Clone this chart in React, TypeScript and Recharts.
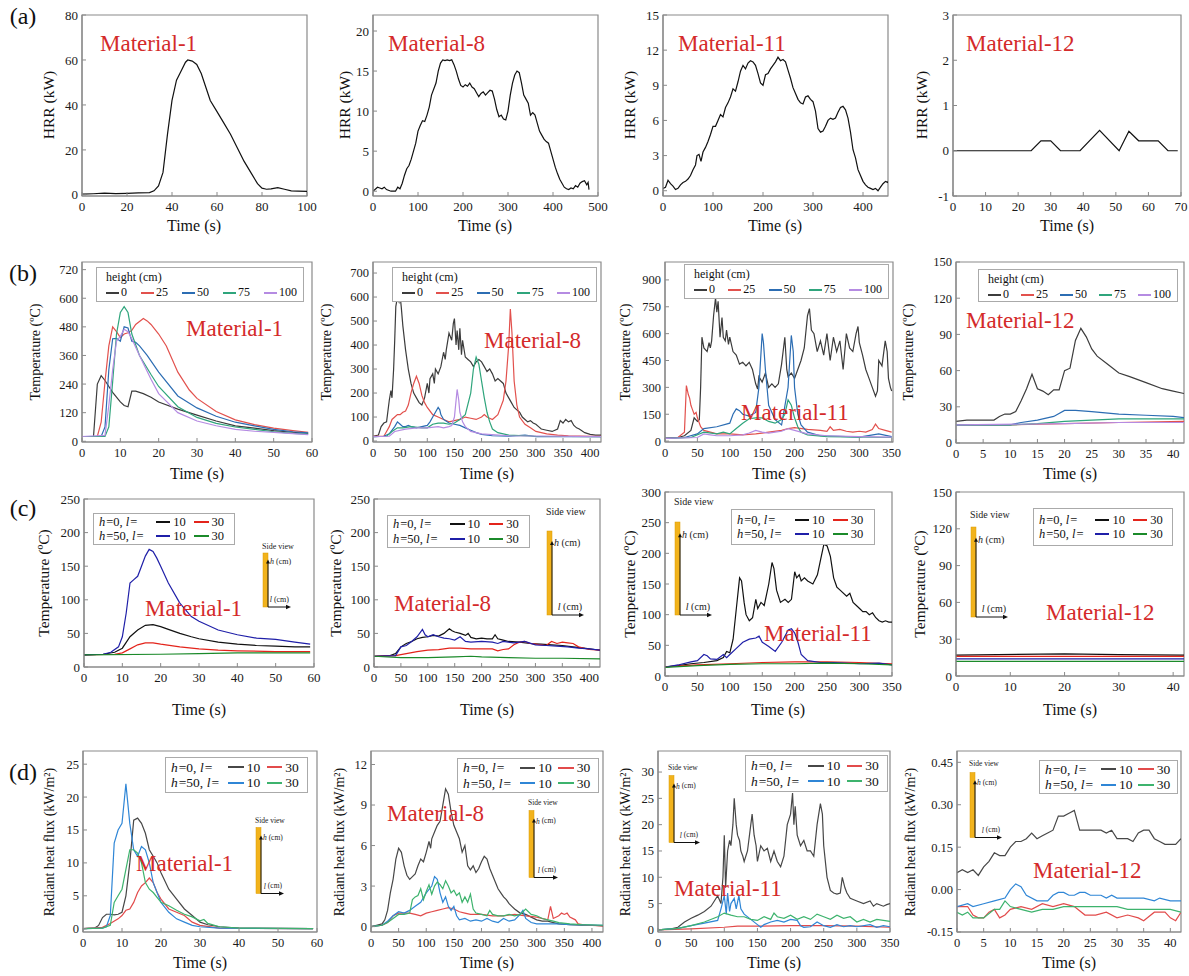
import React from "react";
import { LineChart, Line, XAxis, YAxis, ReferenceArea } from "recharts";

type Pt = [number, number];

const SERIF = '"Liberation Serif", "Times New Roman", "DejaVu Serif", serif';
const FRAME = "#8a8a8a";
const MAT_RED = "#d42a2a";

if (typeof document !== "undefined") document.body.style.margin = "0";

// ---------- (a) heat release rate ----------
const hrrM1: Pt[] = [[0,0.3],[5,0.5],[10,0.8],[15,0.6],[20,0.7],[25,0.9],[30,1],[32,1.8],[34,4],[36,10],[38,27],[40,42],[42,51],[44,55],[46,59],[47,60],[49,59.5],[51,58],[53,54],[55,48],[57,42],[60,37],[63,32],[66,27],[69,21],[72,15],[75,10],[78,5],[80,3],[82,2.5],[84,2.7],[87,3.2],[90,2.5],[93,1.8],[96,1.7],[100,1.6]];
const hrrM8: Pt[] = [[0,0],[10,0.5],[15,0.4],[20,0.3],[25,0.5],[30,0.2],[40,0],[50,0],[55,0.5],[60,0.3],[65,1],[70,2],[75,2.8],[80,3.2],[85,4],[90,5],[95,6],[100,7.5],[105,8.2],[110,8.8],[115,8.7],[120,9.5],[125,10.5],[130,12],[140,13.5],[145,15],[150,16],[155,16.4],[160,16.3],[165,16.4],[170,16.3],[175,16.4],[180,15.8],[185,15],[190,14],[195,13.2],[200,13],[205,13.3],[210,13.1],[215,13.5],[220,13],[225,12.8],[230,12.3],[235,11.8],[240,12.2],[245,12.4],[250,12],[255,12.3],[260,12.6],[265,12.5],[270,11.5],[275,10.2],[280,9.3],[285,9.5],[290,9],[295,8.9],[300,10],[305,12],[310,13.5],[315,14.5],[320,15],[325,14.8],[330,13.5],[335,12],[340,11.5],[345,11],[350,9.5],[355,9.8],[360,9.5],[365,8.5],[370,7.5],[375,7],[380,6.5],[385,6.2],[390,6],[395,5],[400,4],[405,3],[410,2.2],[415,1.5],[420,1],[425,0.5],[430,0.3],[435,0.2],[440,0.4],[445,0.3],[450,0.7],[455,0.5],[460,1],[465,1.2],[470,1.3],[475,0.8],[478,1.1],[480,0.2]];
const hrrM11: Pt[] = [[0,0.2],[5,0.3],[10,0.9],[15,0.6],[20,0.4],[25,0.1],[30,0.2],[35,0.5],[40,0.7],[45,0.8],[50,1],[55,1.3],[60,1.8],[65,2.2],[68,3],[72,3.1],[76,2.5],[80,3.3],[85,3.7],[90,4.2],[95,4.8],[100,5.5],[105,5.5],[110,6],[115,6.5],[120,6.3],[125,7.1],[130,7.5],[135,8],[140,8.7],[145,8.5],[150,9.3],[155,10.2],[160,10.7],[165,10.4],[170,10.9],[175,11.1],[180,11],[185,10.7],[190,10],[195,9.2],[200,9],[205,9.9],[210,10],[215,10.4],[220,10.7],[225,11],[230,11.4],[235,11.1],[240,11.2],[245,11],[250,10.3],[255,9.6],[260,8.8],[265,8.3],[270,7.8],[275,7.5],[280,7.4],[285,8],[290,8.1],[295,7.8],[300,7.6],[305,6.8],[310,5.3],[315,5],[320,5.1],[325,5.5],[330,6],[335,6.2],[340,6.1],[345,6.2],[350,6.7],[355,7.1],[360,7.2],[365,6.9],[370,6.2],[375,5],[380,3.5],[385,2.8],[390,1.8],[395,1.3],[400,0.8],[405,0.5],[410,0.3],[415,0.2],[420,0.1],[425,0.2],[430,0],[435,0.3],[440,0.6],[445,0.8],[450,0.7],[453,1.1]];
const hrrM12: Pt[] = [[0,0],[24,0],[27,0.22],[30,0.22],[33,0],[39,0],[45,0.45],[51,0],[54,0.43],[57,0.22],[63,0.22],[66,0],[69,0]];

// ---------- (b) temperature along height ----------
const tM1h0: Pt[] = [[0,20],[3,20],[4,240],[5,275],[6,255],[7,230],[8,205],[9,185],[10,165],[11,150],[12,145],[13,210],[14,210],[16,200],[18,185],[20,165],[25,135],[30,110],[35,85],[40,65],[45,55],[50,45],[55,38],[59,33]];
const tM1h25: Pt[] = [[0,20],[4,20],[5,80],[6,250],[7,400],[8,480],[9,460],[10,435],[11,450],[12,455],[13,465],[14,490],[16,515],[17,505],[18,490],[20,450],[22,400],[25,290],[28,215],[30,180],[35,125],[40,90],[45,70],[50,55],[55,45],[59,38]];
const tM1h50: Pt[] = [[0,20],[5,20],[6,60],[7,300],[8,430],[9,432],[10,420],[11,480],[12,475],[13,420],[14,415],[15,400],[17,360],[20,290],[25,190],[30,140],[35,105],[40,80],[45,65],[50,50],[55,40],[59,35]];
const tM1h75: Pt[] = [[0,20],[6,20],[7,60],[8,250],[9,450],[10,540],[11,565],[12,540],[13,450],[15,360],[18,280],[20,230],[25,145],[30,100],[35,75],[40,60],[45,50],[50,40],[55,33],[59,30]];
const tM1h100: Pt[] = [[0,20],[6,25],[7,150],[8,300],[9,420],[10,440],[11,470],[12,460],[13,430],[15,360],[18,260],[20,200],[25,120],[30,85],[35,65],[40,50],[45,42],[50,37],[55,32],[59,28]];

const tM8h0: Pt[] = [[0,20],[10,25],[15,60],[20,75],[25,80],[30,170],[33,210],[35,180],[38,300],[40,420],[42,560],[45,600],[48,580],[50,605],[52,560],[55,480],[60,380],[65,300],[70,240],[75,200],[80,180],[85,160],[90,150],[95,180],[100,240],[103,200],[105,260],[110,280],[113,240],[115,300],[120,280],[125,310],[130,370],[133,340],[135,380],[140,450],[145,420],[148,490],[150,510],[153,400],[155,460],[158,380],[160,470],[163,360],[165,420],[170,350],[175,340],[180,330],[185,310],[190,330],[195,340],[200,330],[205,310],[210,290],[215,300],[220,280],[225,250],[230,260],[235,250],[240,240],[245,200],[250,180],[255,160],[260,140],[265,130],[270,120],[275,100],[280,90],[285,80],[290,85],[295,75],[300,70],[305,60],[310,50],[320,45],[330,40],[340,50],[345,85],[350,75],[355,90],[360,80],[365,85],[370,65],[375,55],[380,50],[390,35],[400,28],[410,25],[420,25]];
const tM8h25: Pt[] = [[0,20],[20,20],[25,40],[30,60],[35,90],[40,100],[45,110],[50,110],[55,120],[60,125],[65,150],[70,200],[75,240],[80,270],[85,240],[90,190],[95,160],[100,140],[110,110],[120,100],[130,90],[140,80],[150,85],[160,90],[170,100],[180,95],[190,90],[200,100],[205,110],[210,100],[220,90],[230,110],[240,170],[245,250],[250,400],[253,550],[256,450],[260,250],[265,150],[270,100],[280,70],[290,55],[300,40],[320,30],[340,25],[360,22],[400,20],[420,20]];
const tM8h50: Pt[] = [[0,18],[20,20],[30,30],[40,60],[45,80],[50,70],[55,60],[60,60],[65,65],[70,60],[80,55],[90,60],[100,65],[105,80],[110,100],[115,120],[120,140],[123,130],[125,110],[130,90],[140,75],[150,70],[160,65],[170,55],[180,45],[190,35],[200,28],[220,22],[250,20],[280,25],[290,22],[300,18],[420,18]];
const tM8h75: Pt[] = [[0,18],[25,20],[35,40],[45,55],[55,55],[70,60],[90,55],[100,55],[110,70],[120,75],[130,75],[140,70],[150,75],[160,90],[170,110],[180,200],[185,300],[190,350],[195,320],[200,250],[205,180],[210,120],[215,80],[220,50],[230,35],[250,25],[300,20],[420,18]];
const tM8h100: Pt[] = [[0,18],[30,20],[40,40],[60,50],[80,55],[100,55],[120,60],[130,55],[140,60],[145,65],[150,100],[155,215],[158,170],[160,120],[165,80],[170,60],[180,40],[200,30],[250,22],[420,18]];

const tM11h0: Pt[] = [[0,15],[20,20],[30,30],[40,60],[45,130],[50,110],[53,120],[55,300],[57,580],[60,520],[65,500],[68,550],[70,520],[72,560],[75,700],[78,800],[80,720],[82,780],[85,580],[88,690],[90,580],[93,560],[95,620],[98,540],[100,580],[105,500],[110,480],[115,430],[120,440],[125,420],[130,440],[135,400],[140,320],[143,290],[145,360],[150,330],[155,380],[160,300],[165,320],[170,300],[175,320],[180,430],[185,580],[188,400],[190,360],[195,380],[200,350],[205,400],[210,450],[215,520],[220,700],[223,740],[226,620],[230,600],[235,500],[240,560],[245,480],[250,600],[255,450],[260,580],[265,500],[270,560],[275,400],[280,600],[285,520],[290,500],[295,600],[298,640],[300,550],[305,480],[310,400],[315,350],[320,300],[325,250],[328,280],[330,450],[335,420],[340,560],[343,500],[345,350],[348,300],[350,280]];
const tM11h25: Pt[] = [[0,15],[20,20],[30,50],[33,310],[36,260],[38,240],[40,200],[42,180],[45,150],[48,160],[50,130],[55,80],[60,60],[70,50],[80,40],[100,40],[120,35],[140,40],[160,50],[180,60],[190,70],[200,75],[220,65],[240,60],[250,55],[255,80],[260,60],[270,65],[280,55],[290,50],[300,55],[310,50],[320,65],[325,95],[330,70],[340,60],[350,50]];
const tM11h50: Pt[] = [[0,15],[30,20],[50,40],[60,70],[80,80],[100,100],[105,150],[110,180],[115,170],[120,150],[130,140],[140,160],[145,300],[150,600],[152,550],[155,400],[160,200],[170,120],[180,90],[190,300],[195,590],[198,500],[200,300],[205,150],[210,90],[220,50],[240,30],[280,25],[300,22],[330,40],[350,25]];
const tM11h75: Pt[] = [[0,15],[40,20],[60,50],[80,40],[90,50],[100,40],[110,70],[120,100],[130,125],[140,130],[150,130],[160,110],[170,100],[180,120],[185,150],[190,230],[195,200],[200,130],[205,80],[210,50],[220,35],[250,25],[350,20]];
const tM11h100: Pt[] = [[0,15],[50,20],[60,40],[70,35],[80,30],[100,30],[120,35],[130,45],[140,60],[150,50],[160,45],[170,50],[180,55],[190,70],[200,60],[210,50],[220,40],[250,30],[300,25],[350,22]];

const tM12h0: Pt[] = [[0,18],[2,19],[7,19],[8,22],[9,24],[10,24],[11,26],[12,35],[13,45],[14,57],[15,45],[16,43],[17,40],[18,44],[19,44],[20,60],[21,62],[22,85],[23,95],[24,88],[25,78],[26,72],[28,65],[30,58],[32,55],[35,50],[38,45],[40,43],[42,41]];
const tM12h25: Pt[] = [[0,15],[10,15],[20,16],[30,17],[42,18]];
const tM12h50: Pt[] = [[0,15],[10,15],[12,17],[15,19],[18,22],[20,27],[22,27],[25,26],[30,24],[35,23],[40,22],[42,21]];
const tM12h75: Pt[] = [[0,15],[10,15],[15,16],[20,18],[25,19],[30,20],[42,20]];
const tM12h100: Pt[] = [[0,15],[20,16],[30,17],[42,17]];

// ---------- (c) temperature off the wall ----------
const cM1a: Pt[] = [[0,18],[5,19],[8,22],[10,28],[12,45],[14,55],[16,62],[18,63],[20,60],[22,56],[25,50],[28,45],[30,42],[35,37],[40,34],[45,32],[50,31],[55,30],[59,30]];
const cM1b: Pt[] = [[0,18],[8,19],[10,21],[12,27],[14,33],[16,36],[18,36],[20,34],[25,30],[30,27],[35,25],[40,24],[50,23],[59,23]];
const cM1c: Pt[] = [[0,18],[5,19],[7,22],[9,30],[10,45],[11,80],[12,125],[13,130],[14,135],[15,150],[16,165],[17,175],[18,172],[19,162],[20,150],[22,125],[25,95],[28,75],[30,68],[35,55],[40,48],[45,43],[50,41],[55,37],[59,34]];
const cM1d: Pt[] = [[0,18],[20,19],[30,20],[40,21],[50,21],[59,21]];

const cM8a: Pt[] = [[0,16],[30,17],[40,20],[50,30],[60,35],[70,38],[80,42],[90,44],[100,45],[110,47],[120,46],[130,50],[140,57],[145,54],[150,52],[160,50],[170,47],[175,50],[180,44],[190,42],[200,43],[210,42],[220,42],[225,48],[230,42],[240,40],[250,38],[270,37],[290,35],[310,34],[330,33],[350,32],[370,30],[390,28],[410,26],[420,25]];
const cM8b: Pt[] = [[0,16],[40,17],[60,20],[80,23],[100,25],[120,26],[140,28],[160,28],[180,27],[200,27],[220,27],[230,24],[240,26],[250,27],[260,33],[270,37],[280,38],[290,35],[300,34],[320,32],[330,38],[340,35],[350,37],[360,36],[370,35],[380,30],[400,26],[420,25]];
const cM8c: Pt[] = [[0,16],[40,17],[50,30],[60,32],[70,38],[80,45],[90,56],[95,48],[100,45],[110,48],[120,45],[130,43],[140,42],[150,40],[160,45],[170,38],[180,37],[200,38],[220,37],[230,35],[240,38],[260,36],[280,38],[300,33],[320,32],[340,31],[360,30],[380,28],[400,27],[420,25]];
const cM8d: Pt[] = [[0,16],[50,14],[100,14],[150,15],[180,16],[200,15],[250,14],[300,13],[350,13],[420,12]];

const cM11a: Pt[] = [[0,15],[20,17],[40,20],[60,22],[80,25],[90,30],[95,40],[100,38],[105,60],[110,110],[115,160],[118,155],[122,120],[125,100],[130,90],[135,95],[140,125],[143,110],[148,120],[153,115],[160,150],[165,185],[168,175],[172,140],[178,120],[185,125],[190,120],[195,125],[200,170],[203,160],[207,165],[210,155],[215,160],[220,155],[228,150],[235,165],[240,190],[245,215],[250,212],[255,195],[260,160],[265,145],[270,140],[280,130],[285,135],[290,120],[300,110],[305,105],[310,105],[315,100],[320,103],[325,95],[330,90],[335,88],[340,90],[345,88],[350,88]];
const cM11b: Pt[] = [[0,15],[50,18],[100,20],[150,22],[200,23],[250,23],[300,22],[350,20]];
const cM11c: Pt[] = [[0,14],[20,18],[40,23],[50,25],[60,35],[65,33],[70,28],[80,27],[90,35],[95,30],[100,35],[110,45],[120,55],[130,60],[140,62],[145,65],[150,55],[160,48],[170,40],[180,55],[190,75],[195,77],[200,70],[205,55],[210,35],[220,25],[240,22],[260,22],[300,20],[330,21],[350,18]];
const cM11d: Pt[] = [[0,14],[50,17],[100,19],[150,20],[200,20],[250,21],[300,20],[350,18]];

const cM12a: Pt[] = [[0,17],[20,18],[30,17.5],[42,17]];
const cM12b: Pt[] = [[0,16],[42,16]];
const cM12c: Pt[] = [[0,14],[42,14]];
const cM12d: Pt[] = [[0,12],[42,12]];

// ---------- (d) radiant heat flux ----------
const qM1a: Pt[] = [[0,0],[3,0.1],[4,0.5],[5,1.7],[6,2.2],[7,2.2],[8,2.1],[9,2.2],[10,2.5],[11,5],[12,10],[13,16.5],[14,16.8],[15,16],[16,14.5],[17,12],[18,11],[19,10],[20,8.5],[22,6],[24,4.5],[26,3],[28,2],[30,1],[32,0.6],[35,0.3],[40,0.1],[45,0.05],[59,0]];
const qM1b: Pt[] = [[0,0],[5,0.2],[7,0.8],[9,1.5],[10,2],[11,2.8],[12,3],[13,4],[14,5.5],[15,6.5],[16,7],[17,7.7],[18,7],[19,5.5],[20,4.5],[22,3],[24,2.5],[26,2],[28,1],[30,0.5],[35,0.1],[59,0]];
const qM1c: Pt[] = [[0,0],[5,0.1],[6,0.3],[7,2],[8,13],[9,15],[10,16],[11,22],[12,16],[13,12],[14,11],[15,12.5],[16,12],[17,10],[18,7],[20,4],[22,2.5],[24,1.5],[26,1],[28,0.5],[30,0.3],[35,0.1],[59,0]];
const qM1d: Pt[] = [[0,0],[5,0.1],[7,0.5],[8,4],[9,5],[10,6],[11,9],[12,12],[13,12],[14,11.5],[15,10],[16,7],[17,6],[18,5.5],[20,4],[22,3.5],[24,2.8],[26,2.2],[28,1.8],[30,1.2],[31,1.4],[32,0.8],[35,0.3],[40,0.1],[59,0]];

const qM8a: Pt[] = [[0,0],[10,0.1],[20,0.2],[25,0.5],[30,1.2],[35,2.5],[40,3.5],[45,5],[50,5.8],[55,5.5],[60,4.5],[65,3.8],[70,3.5],[75,3.7],[80,3.9],[85,4.5],[90,5],[95,4.8],[100,5.5],[105,6.3],[108,5.8],[110,6.5],[115,7],[120,7.5],[125,7.8],[130,9],[135,10.2],[140,9.8],[145,8.5],[150,7.5],[155,7],[160,6.5],[165,5.5],[170,6],[175,4.5],[180,4.2],[185,4.5],[190,4],[195,4.3],[200,4.8],[205,5.2],[210,5],[215,4.3],[220,3.8],[225,3.3],[230,2.8],[235,2.5],[240,2.2],[245,2],[250,1.7],[255,1.5],[260,1.3],[270,1],[280,0.9],[290,0.7],[300,0.5],[310,0.4],[320,0.4],[330,0.3],[340,0.2],[360,0.15],[380,0.1],[400,0.1],[420,0.05]];
const qM8b: Pt[] = [[0,0],[20,0.1],[30,0.3],[40,0.8],[50,1],[60,1],[70,1],[80,0.9],[90,0.8],[100,1],[110,1.1],[120,1.2],[130,1.3],[140,1.4],[150,1.3],[160,1.1],[170,1],[180,0.9],[200,0.9],[220,0.8],[240,0.8],[260,0.9],[280,0.8],[300,0.7],[320,0.5],[325,1.5],[330,0.6],[340,0.8],[345,1],[350,0.9],[355,1],[360,0.7],[370,0.5],[375,0.2],[390,0.1],[420,0.05]];
const qM8c: Pt[] = [[0,0],[20,0.1],[30,0.4],[40,0.8],[50,1.1],[60,1],[70,1.2],[80,1.5],[90,1.8],[100,2.5],[110,3],[115,3.7],[120,3.5],[125,2.5],[130,1.8],[135,2.2],[140,1.5],[145,1.2],[150,1.5],[155,0.8],[160,0.5],[170,0.6],[180,0.4],[190,0.5],[200,0.4],[210,0.6],[220,0.4],[230,0.3],[240,0.6],[250,0.4],[260,0.5],[270,0.9],[275,1.2],[280,0.6],[290,0.3],[300,0.2],[320,0.2],[340,0.2],[360,0.15],[420,0.1]];
const qM8d: Pt[] = [[0,0],[20,0.1],[30,0.3],[40,0.6],[50,0.9],[60,0.9],[70,1],[75,2],[80,2.2],[85,2.3],[90,2.8],[95,2],[100,2.6],[105,3.1],[110,2.4],[115,3],[120,3.3],[125,3.1],[130,2.8],[135,3.4],[140,3],[145,2.5],[150,2.7],[155,2.3],[160,2.5],[165,1.8],[170,2.2],[175,1.8],[180,2.4],[185,1.3],[190,1],[200,0.9],[210,0.8],[215,1.2],[220,0.9],[230,0.8],[240,0.8],[250,0.9],[260,0.8],[270,0.9],[280,1.3],[290,0.9],[300,0.8],[310,0.6],[320,0.5],[330,0.4],[340,0.3],[360,0.2],[380,0.15],[420,0.1]];

const qM11a: Pt[] = [[0,0],[20,0.2],[30,0.5],[40,1.5],[50,2.2],[60,2.8],[70,3.5],[80,4.5],[85,5.5],[90,6.5],[95,5],[98,10],[100,18],[102,8],[105,15],[108,17],[110,16],[113,20],[115,25],[118,20],[120,18],[123,17],[125,15],[128,14],[130,13],[135,15],[140,20],[142,22],[145,18],[148,16],[150,13],[155,16],[160,15],[165,15.5],[170,13],[175,15],[180,13],[185,12],[190,14],[195,20],[200,22],[203,26],[205,20],[207,23.5],[210,18],[215,16],[220,17],[225,15],[230,15],[235,14],[240,20],[245,24],[248,22],[250,16],[255,10],[260,7.5],[265,7],[270,6.8],[275,7],[278,10],[282,8],[285,7],[290,6],[300,5.5],[310,5],[320,5.5],[325,4.5],[330,5],[340,4.5],[345,4.8],[350,5]];
const qM11b: Pt[] = [[0,0],[50,0.2],[100,0.5],[120,0.7],[150,0.7],[200,0.8],[250,0.8],[300,0.7],[350,0.5]];
const qM11c: Pt[] = [[0,0],[30,0.3],[50,0.8],[70,1.3],[90,1.8],[95,4],[100,6.5],[103,3],[105,7],[108,3.5],[110,5],[115,6],[118,4],[122,6.5],[125,4],[130,3],[140,2],[150,1],[155,0.5],[160,1],[170,1.5],[180,1.8],[190,1.5],[200,2],[210,1.8],[215,0.8],[220,0.5],[230,0.6],[240,1.5],[250,0.8],[260,0.5],[270,1],[280,0.6],[290,0.8],[300,0.6],[320,1],[330,0.5],[340,0.8],[350,0.6]];
const qM11d: Pt[] = [[0,0],[30,0.3],[50,0.8],[70,1.5],[90,2.5],[100,3.2],[105,3],[110,2.8],[120,2.5],[130,2.5],[140,2],[150,1.8],[160,2.5],[170,2],[175,3.2],[180,2.5],[190,2.2],[200,2.8],[210,2],[220,2.5],[230,2],[240,3],[250,2.5],[260,2],[270,2.8],[280,2.2],[290,2.5],[300,1.5],[310,2],[320,1.5],[330,2],[340,1.8],[350,1.6]];

const qM12a: Pt[] = [[0,0.06],[1,0.07],[2,0.06],[3,0.07],[4,0.05],[5,0.08],[6,0.1],[7,0.13],[8,0.12],[9,0.12],[10,0.15],[11,0.17],[12,0.17],[13,0.18],[14,0.2],[15,0.18],[16,0.19],[17,0.2],[18,0.21],[19,0.26],[20,0.26],[21,0.27],[22,0.28],[23,0.21],[25,0.21],[27,0.21],[28,0.2],[29,0.21],[30,0.18],[32,0.18],[33,0.17],[34,0.2],[35,0.21],[36,0.21],[37,0.18],[38,0.17],[39,0.16],[40,0.16],[41,0.16],[42,0.18]];
const qM12b: Pt[] = [[0,-0.06],[1,-0.06],[2,-0.06],[3,-0.09],[4,-0.1],[5,-0.1],[6,-0.08],[7,-0.07],[8,-0.1],[9,-0.09],[10,-0.07],[12,-0.06],[14,-0.07],[16,-0.05],[18,-0.06],[20,-0.05],[22,-0.06],[24,-0.09],[26,-0.09],[28,-0.08],[30,-0.1],[32,-0.09],[34,-0.1],[35,-0.11],[37,-0.08],[39,-0.08],[40,-0.1],[41,-0.11],[42,-0.08]];
const qM12c: Pt[] = [[0,-0.06],[2,-0.05],[3,-0.06],[5,-0.05],[7,-0.04],[9,-0.03],[10,0],[11,0.02],[12,0.01],[13,-0.02],[15,-0.04],[17,-0.04],[18,-0.02],[19,-0.01],[20,-0.01],[21,-0.02],[22,-0.02],[23,-0.01],[24,-0.01],[25,-0.02],[27,-0.02],[28,-0.03],[29,-0.02],[30,-0.03],[35,-0.03],[37,-0.04],[38,-0.03],[40,-0.04],[42,-0.04]];
const qM12d: Pt[] = [[0,-0.08],[1,-0.09],[2,-0.08],[3,-0.1],[5,-0.1],[7,-0.07],[8,-0.07],[9,-0.04],[10,-0.06],[12,-0.07],[14,-0.08],[16,-0.07],[18,-0.07],[20,-0.06],[22,-0.06],[24,-0.06],[26,-0.06],[28,-0.06],[30,-0.06],[32,-0.07],[35,-0.07],[38,-0.07],[40,-0.07],[42,-0.08]];

// ---------- ticks ----------
const ticksT60 = [0, 10, 20, 30, 40, 50, 60];
const ticksT400 = [0, 50, 100, 150, 200, 250, 300, 350, 400];
const ticksT350 = [0, 50, 100, 150, 200, 250, 300, 350];
const ticksT40 = [0, 5, 10, 15, 20, 25, 30, 35, 40];

const COL_B = ["#3c3c3c", "#e2514d", "#2c6db3", "#2fa57c", "#b58be2"];
const COL_C = ["#111111", "#e3241b", "#1f1fa8", "#1b8a2a"];
const COL_D = ["#474747", "#e24b4b", "#2f86d6", "#3db36d"];

interface Box { x: number; y: number; w: number; h: number }

function Panel(props: {
  box: Box; xd: [number, number]; xt: number[]; yd: [number, number]; yt: number[];
  series: Pt[][]; colors: string[]; fs?: number; yFmt?: (v: number) => string;
}) {
  const { box, xd, xt, yd, yt, series, colors, fs = 13, yFmt } = props;
  const yw = 50;
  const xh = 26;
  const mt = 10;
  const mr = 16;
  const tickStyle = { fill: "#1a1a1a", fontSize: fs, fontFamily: SERIF };
  return (
    <div style={{ position: "absolute", left: box.x - yw, top: box.y - mt }}>
      <LineChart width={box.w + yw + mr} height={box.h + xh + mt} margin={{ top: mt, right: mr, bottom: 0, left: 0 }}>
        <XAxis type="number" dataKey="t" domain={xd} ticks={xt} interval={0} allowDataOverflow height={xh}
          tickSize={-4} tickMargin={10} tick={tickStyle} axisLine={{ stroke: FRAME, strokeWidth: 1.2 }} tickLine={{ stroke: FRAME }} />
        <YAxis type="number" domain={yd} ticks={yt} interval={0} allowDataOverflow width={yw}
          tickSize={-4} tickMargin={8} tick={tickStyle} tickFormatter={yFmt} axisLine={{ stroke: FRAME, strokeWidth: 1.2 }} tickLine={{ stroke: FRAME }} />
        <ReferenceArea x1={xd[0]} x2={xd[1]} y1={yd[0]} y2={yd[1]} fill="none" fillOpacity={0} stroke={FRAME} strokeWidth={1.2} ifOverflow="visible" />
        {series.map((s, i) => (
          <Line key={i} data={s.map(([t, v]) => ({ t, v }))} dataKey="v" type="linear" stroke={colors[i]}
            strokeWidth={1.2} dot={false} activeDot={false} isAnimationActive={false} />
        ))}
      </LineChart>
    </div>
  );
}

function Txt(p: { x: number; y: number; s: number; c?: string; rot?: boolean; left?: boolean; children: React.ReactNode }) {
  const tr = (p.left ? "translate(0,-50%)" : "translate(-50%,-50%)") + (p.rot ? " rotate(-90deg)" : "");
  return (
    <div style={{ position: "absolute", left: p.x, top: p.y, transform: tr, fontFamily: SERIF, fontSize: p.s,
      color: p.c || "#111", whiteSpace: "nowrap", lineHeight: 1 }}>{p.children}</div>
  );
}

const Mat = ({ x, y, t }: { x: number; y: number; t: string }) => (
  <Txt x={x} y={y} s={23} c={MAT_RED} left>{t}</Txt>
);

function LegendB({ x, y, w, h }: { x: number; y: number; w: number; h: number }) {
  const labels = ["0", "25", "50", "75", "100"];
  return (
    <div style={{ position: "absolute", left: x, top: y, width: w, height: h, boxSizing: "border-box",
      border: "1px solid #aaa", background: "#fff", fontFamily: SERIF, fontSize: 12, color: "#111",
      padding: "2px 6px 0 9px", lineHeight: "15px" }}>
      <div>height (cm)</div>
      <div style={{ display: "flex", justifyContent: "space-between" }}>
        {labels.map((l, i) => (
          <span key={l} style={{ display: "flex", alignItems: "center" }}>
            <span style={{ display: "inline-block", width: 13, height: 0, borderTop: `2px solid ${COL_B[i]}`, marginRight: 2 }} />{l}
          </span>
        ))}
      </div>
    </div>
  );
}

function LegendHL({ x, y, w, h, colors, fs }: { x: number; y: number; w: number; h: number; colors: string[]; fs: number }) {
  const rows = [["0", colors[0], colors[1]], ["50", colors[2], colors[3]]];
  const lh = fs + 2;
  const item = (c: string, l: string) => (
    <span style={{ display: "flex", alignItems: "center", width: w * 0.27 }}>
      <span style={{ display: "inline-block", width: fs * 1.15, height: 0, borderTop: `2px solid ${c}`, marginRight: 3 }} />{l}
    </span>
  );
  return (
    <div style={{ position: "absolute", left: x, top: y, width: w, height: h, boxSizing: "border-box",
      border: "1px solid #aaa", background: "#fff", fontFamily: SERIF, fontSize: fs, color: "#111",
      padding: `${Math.max(0, (h - 2 - 2 * lh) / 2)}px 0 0 5px`, lineHeight: `${lh}px` }}>
      {rows.map((r) => (
        <div key={r[0]} style={{ display: "flex", height: lh }}>
          <span style={{ width: w * 0.4 }}>
            <span style={{ fontStyle: "italic", paddingRight: 1 }}>h</span>{`=${r[0]}, `}
            <span style={{ fontStyle: "italic", paddingRight: 1 }}>l</span>=
          </span>
          {item(r[1], "10")}
          {item(r[2], "30")}
        </div>
      ))}
    </div>
  );
}

function SideView({ bx, bt, bb, ar, sy, fs }: { bx: number; bt: number; bb: number; ar: number; sy: number; fs: number }) {
  const ox = bx - 4;
  const oy = sy - fs;
  const X = (v: number) => v - ox;
  const Y = (v: number) => v - oy;
  const bw = 5;
  const tip = bt + (bb - bt) * 0.12;
  const vx = X(bx + bw);
  return (
    <svg style={{ position: "absolute", left: ox, top: oy, overflow: "visible" }} width={ar - ox + 8} height={bb - oy + 6}>
      <text x={X(bx) - 1} y={Y(sy)} fontSize={fs} fontFamily={SERIF} dominantBaseline="middle" fill="#222">Side view</text>
      <rect x={X(bx)} y={Y(bt)} width={bw} height={bb - bt} fill="#f2b31c" stroke="#d99a00" strokeWidth={0.5} />
      <line x1={vx} y1={Y(bb)} x2={vx} y2={Y(tip) + 3} stroke="#111" strokeWidth={1} />
      <polygon points={`${vx - 2},${Y(tip) + 4} ${vx + 2},${Y(tip) + 4} ${vx},${Y(tip)}`} fill="#111" />
      <text x={vx + 2} y={Y(tip) + 3} fontSize={fs} fontFamily={SERIF} dominantBaseline="middle" fill="#222">
        <tspan fontStyle="italic">h</tspan> (cm)
      </text>
      <line x1={vx} y1={Y(bb)} x2={X(ar) - 4} y2={Y(bb)} stroke="#111" strokeWidth={1} />
      <polygon points={`${X(ar) - 5},${Y(bb) - 2.2} ${X(ar) - 5},${Y(bb) + 2.2} ${X(ar)},${Y(bb)}`} fill="#111" />
      <text x={X(ar) - 2} y={Y(bb) - 7} fontSize={fs} fontFamily={SERIF} textAnchor="end" dominantBaseline="middle" fill="#222">
        <tspan fontStyle="italic">l</tspan> (cm)
      </text>
    </svg>
  );
}

const tempLabel = "Temperature (ºC)";
const fluxLabel = "Radiant heat flux (kW/m²)";

export default function App() {
  const A = { y: 15, h: 181 };
  const B = { y: 262, h: 180 };
  const D = { y: 751, h: 181 };
  return (
    <div style={{ position: "relative", width: 1189, height: 976, background: "#fff", overflow: "hidden", fontFamily: SERIF }}>
      {/* row (a) */}
      <Panel box={{ x: 82, y: A.y, w: 225, h: A.h }} xd={[0, 100]} xt={[0, 20, 40, 60, 80, 100]} yd={[-0.5, 80]} yt={[0, 20, 40, 60, 80]} series={[hrrM1]} colors={["#111"]} />
      <Panel box={{ x: 373, y: A.y, w: 225, h: A.h }} xd={[0, 500]} xt={[0, 100, 200, 300, 400, 500]} yd={[-0.6, 22]} yt={[0, 5, 10, 15, 20]} series={[hrrM8]} colors={["#111"]} />
      <Panel box={{ x: 663, y: A.y, w: 225, h: A.h }} xd={[0, 450]} xt={[0, 100, 200, 300, 400]} yd={[-0.45, 15]} yt={[0, 3, 6, 9, 12, 15]} series={[hrrM11]} colors={["#111"]} />
      <Panel box={{ x: 953, y: A.y, w: 228, h: A.h }} xd={[0, 70]} xt={[0, 10, 20, 30, 40, 50, 60, 70]} yd={[-1, 3]} yt={[-1, 0, 1, 2, 3]} series={[hrrM12]} colors={["#111"]} />

      {/* row (b) */}
      <Panel box={{ x: 82, y: B.y, w: 230, h: B.h }} xd={[0, 60]} xt={ticksT60} yd={[-3, 752]} yt={[0, 120, 240, 360, 480, 600, 720]} series={[tM1h0, tM1h25, tM1h50, tM1h75, tM1h100]} colors={COL_B} fs={12.5} />
      <Panel box={{ x: 373, y: B.y, w: 228, h: B.h }} xd={[0, 420]} xt={ticksT400} yd={[-4, 746]} yt={[0, 100, 200, 300, 400, 500, 600, 700]} series={[tM8h0, tM8h25, tM8h50, tM8h75, tM8h100]} colors={COL_B} fs={12.5} />
      <Panel box={{ x: 665, y: B.y, w: 228, h: B.h }} xd={[0, 352]} xt={ticksT350} yd={[-5, 1000]} yt={[0, 150, 300, 450, 600, 750, 900]} series={[tM11h0, tM11h25, tM11h50, tM11h75, tM11h100]} colors={COL_B} fs={12.5} />
      <Panel box={{ x: 956, y: B.y, w: 228, h: B.h + 1 }} xd={[0, 42]} xt={ticksT40} yd={[0, 150]} yt={[0, 30, 60, 90, 120, 150]} series={[tM12h0, tM12h25, tM12h50, tM12h75, tM12h100]} colors={COL_B} fs={12.5} />

      {/* row (c) */}
      <Panel box={{ x: 84, y: 499, w: 230, h: 168 }} xd={[0, 60]} xt={ticksT60} yd={[0, 250]} yt={[0, 50, 100, 150, 200, 250]} series={[cM1a, cM1b, cM1c, cM1d]} colors={COL_C} />
      <Panel box={{ x: 374, y: 499, w: 226, h: 168 }} xd={[0, 420]} xt={ticksT400} yd={[0, 250]} yt={[0, 50, 100, 150, 200, 250]} series={[cM8a, cM8b, cM8c, cM8d]} colors={COL_C} />
      <Panel box={{ x: 665, y: 492, w: 227, h: 184 }} xd={[0, 350]} xt={ticksT350} yd={[0, 300]} yt={[0, 50, 100, 150, 200, 250, 300]} series={[cM11a, cM11b, cM11c, cM11d]} colors={COL_C} />
      <Panel box={{ x: 956, y: 492, w: 228, h: 184 }} xd={[0, 42]} xt={[0, 10, 20, 30, 40]} yd={[0, 150]} yt={[0, 30, 60, 90, 120, 150]} series={[cM12a, cM12b, cM12c, cM12d]} colors={COL_C} />

      {/* row (d) */}
      <Panel box={{ x: 83, y: D.y, w: 234, h: D.h }} xd={[0, 60]} xt={ticksT60} yd={[-0.5, 27]} yt={[0, 5, 10, 15, 20, 25]} series={[qM1a, qM1b, qM1c, qM1d]} colors={COL_D} fs={12.5} />
      <Panel box={{ x: 371, y: D.y, w: 232, h: D.h }} xd={[0, 420]} xt={ticksT400} yd={[-0.4, 13]} yt={[0, 3, 6, 9, 12]} series={[qM8a, qM8b, qM8c, qM8d]} colors={COL_D} fs={12.5} />
      <Panel box={{ x: 658, y: D.y, w: 232, h: D.h }} xd={[0, 350]} xt={ticksT350} yd={[-0.4, 34]} yt={[0, 5, 10, 15, 20, 25, 30]} series={[qM11a, qM11b, qM11c, qM11d]} colors={COL_D} fs={12.5} />
      <Panel box={{ x: 957, y: D.y, w: 224, h: D.h }} xd={[0, 42]} xt={ticksT40} yd={[-0.15, 0.49]} yt={[-0.15, 0, 0.15, 0.3, 0.45]} series={[qM12a, qM12b, qM12c, qM12d]} colors={COL_D} fs={12.5} yFmt={(v) => v.toFixed(2)} />

      {/* panel letters */}
      <Txt x={23} y={16} s={24}>(a)</Txt>
      <Txt x={23} y={273} s={24}>(b)</Txt>
      <Txt x={23} y={508} s={24}>(c)</Txt>
      <Txt x={23} y={772} s={24}>(d)</Txt>

      {/* axis titles */}
      {[[49, 194], [345, 485], [630, 775], [922, 1067]].map(([yx, cx], i) => (
        <React.Fragment key={"a" + i}>
          <Txt x={yx} y={105} s={15.5} rot>HRR (kW)</Txt>
          <Txt x={cx} y={226} s={16}>Time (s)</Txt>
        </React.Fragment>
      ))}
      {[[36, 197], [327, 487], [626, 779], [909, 1070]].map(([yx, cx], i) => (
        <React.Fragment key={"b" + i}>
          <Txt x={yx} y={352} s={14} rot>{tempLabel}</Txt>
          <Txt x={cx} y={474} s={16}>Time (s)</Txt>
        </React.Fragment>
      ))}
      {[[44, 199, 583], [336, 487, 583], [630, 778, 584], [920, 1070, 584]].map(([yx, cx, cy], i) => (
        <React.Fragment key={"c" + i}>
          <Txt x={yx} y={cy} s={15.5} rot>{tempLabel}</Txt>
          <Txt x={cx} y={710} s={16}>Time (s)</Txt>
        </React.Fragment>
      ))}
      {[[50, 200], [340, 487], [626, 774], [911, 1069]].map(([yx, cx], i) => (
        <React.Fragment key={"d" + i}>
          <Txt x={yx} y={842} s={14} rot>{fluxLabel}</Txt>
          <Txt x={cx} y={963} s={16}>Time (s)</Txt>
        </React.Fragment>
      ))}

      {/* legends */}
      <LegendB x={96} y={267} w={208} h={35} />
      <LegendB x={392} y={267} w={205} h={35} />
      <LegendB x={684} y={264} w={205} h={35} />
      <LegendB x={978} y={269} w={200} h={33} />

      <LegendHL x={93} y={513} w={142} h={32} colors={COL_C} fs={12.5} />
      <LegendHL x={387} y={515} w={143} h={33} colors={COL_C} fs={12.5} />
      <LegendHL x={731} y={509} w={144} h={36} colors={COL_C} fs={12.5} />
      <LegendHL x={1033} y={508} w={140} h={38} colors={COL_C} fs={12.5} />

      <LegendHL x={165} y={757} w={143} h={36} colors={COL_D} fs={13.5} />
      <LegendHL x={457} y={758} w={142} h={35} colors={COL_D} fs={13.5} />
      <LegendHL x={745} y={755} w={143} h={37} colors={COL_D} fs={13.5} />
      <LegendHL x={1039} y={760} w={139} h={34} colors={COL_D} fs={13.5} />

      {/* side-view insets */}
      <SideView bx={263} bt={553} bb={607} ar={291} sy={547} fs={8} />
      <SideView bx={547} bt={531} bb={615} ar={584} sy={513} fs={10} />
      <SideView bx={675} bt={522} bb={615} ar={712} sy={503} fs={10} />
      <SideView bx={971} bt={527} bb={617} ar={1008} sy={516} fs={10} />
      <SideView bx={256} bt={827} bb={893} ar={284} sy={821} fs={7.5} />
      <SideView bx={529} bt={810} bb={877} ar={558} sy={803} fs={7.5} />
      <SideView bx={669} bt={775} bb={842} ar={700} sy={768} fs={7.5} />
      <SideView bx={970} bt={772} bb={837} ar={1002} sy={764} fs={7.5} />

      {/* material names */}
      <Mat x={100} y={43} t="Material-1" />
      <Mat x={388} y={43} t="Material-8" />
      <Mat x={678} y={43} t="Material-11" />
      <Mat x={966} y={43} t="Material-12" />
      <Mat x={186} y={328} t="Material-1" />
      <Mat x={484} y={340} t="Material-8" />
      <Mat x={741} y={412} t="Material-11" />
      <Mat x={966} y={320} t="Material-12" />
      <Mat x={145} y={608} t="Material-1" />
      <Mat x={394} y={603} t="Material-8" />
      <Mat x={764} y={633} t="Material-11" />
      <Mat x={1046} y={612} t="Material-12" />
      <Mat x={136} y={863} t="Material-1" />
      <Mat x={387} y={813} t="Material-8" />
      <Mat x={674} y={888} t="Material-11" />
      <Mat x={1033} y={870} t="Material-12" />
    </div>
  );
}
